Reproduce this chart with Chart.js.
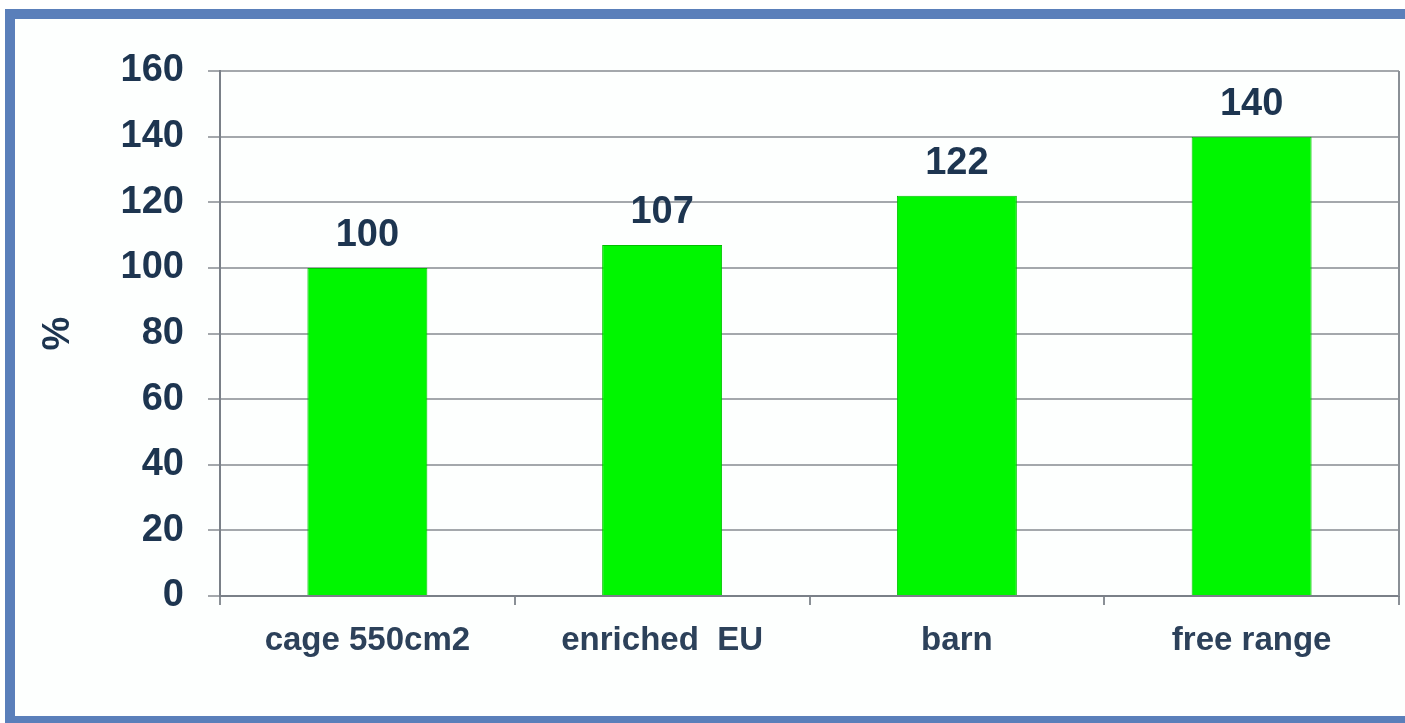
<!DOCTYPE html>
<html>
<head>
<meta charset="utf-8">
<script src="https://cdn.jsdelivr.net/npm/chart.js@4.4.0/dist/chart.umd.min.js"></script>
<style>
  html, body { margin: 0; padding: 0; background: #fff; overflow: hidden; }
  #frame {
    position: absolute; left: 5px; top: 9px; width: 1390px; height: 697px;
    border-left: 10px solid #5a7fba; border-top: 10px solid #5a7fba; border-bottom: 7px solid #5a7fba;
    background: #fdfffe;
  }
  #chart { position: absolute; left: 0; top: 0; }
</style>
</head>
<body>
<div id="frame"></div>
<canvas id="chart" width="1405" height="723"></canvas>
<script>
const categories = ['cage 550cm2', 'enriched  EU', 'barn', 'free range'];
const values = [100, 107, 122, 140];
const yTicks = [0, 20, 40, 60, 80, 100, 120, 140, 160];

const navy = '#1d3550';
const fontFamily = '"Liberation Sans", Arial, sans-serif';

// value labels above each bar
const barLabels = {
  id: 'barLabels',
  afterDatasetsDraw(chart) {
    const ctx = chart.ctx;
    const meta = chart.getDatasetMeta(0);
    ctx.save();
    ctx.font = 'bold 38px ' + fontFamily;
    ctx.fillStyle = navy;
    ctx.textAlign = 'center';
    ctx.textBaseline = 'middle';
    meta.data.forEach((bar, i) => {
      ctx.fillText(values[i], bar.x, bar.y - 32);
    });
    ctx.restore();
  }
};

// right edge of the plot box
const plotFrame = {
  id: 'plotFrame',
  afterDraw(chart) {
    const { ctx, chartArea: a } = chart;
    ctx.save();
    ctx.strokeStyle = '#8a9096';
    ctx.lineWidth = 2;
    ctx.beginPath();
    ctx.moveTo(a.right, a.top);
    ctx.lineTo(a.right, a.bottom);
    ctx.stroke();
    ctx.restore();
  }
};

new Chart(document.getElementById('chart'), {
  type: 'bar',
  data: {
    labels: categories,
    datasets: [{
      data: values,
      backgroundColor: '#00f600',
      borderColor: '#00c000',
      borderWidth: 1,
      barPercentage: 0.407,
      categoryPercentage: 1
    }]
  },
  options: {
    responsive: false,
    animation: false,
    layout: { padding: { top: 71, right: 6, bottom: 47, left: 0 } },
    plugins: { legend: { display: false }, tooltip: { enabled: false } },
    scales: {
      x: {
        afterFit: s => { s.height = 80; },
        grid: { drawOnChartArea: false, drawTicks: true, tickLength: 9, color: '#8a9096', lineWidth: 2, offset: true },
        border: { color: '#7a8088', width: 2 },
        ticks: { color: '#2c415a', padding: 16, font: { family: fontFamily, size: 33, weight: 'bold' } }
      },
      y: {
        min: 0,
        max: 160,
        afterFit: s => { s.width = 220; },
        afterBuildTicks: s => { s.ticks = yTicks.map(v => ({ value: v })); },
        grid: { color: '#a4a8ac', lineWidth: 2, tickLength: 12 },
        border: { color: '#7a8088', width: 2 },
        ticks: { color: navy, padding: 24, font: { family: fontFamily, size: 38, weight: 'bold' } },
        title: { display: true, text: '%', color: navy, padding: { top: 36 }, font: { family: fontFamily, size: 38, weight: 'bold' } }
      }
    }
  },
  plugins: [barLabels, plotFrame]
});
</script>
</body>
</html>
